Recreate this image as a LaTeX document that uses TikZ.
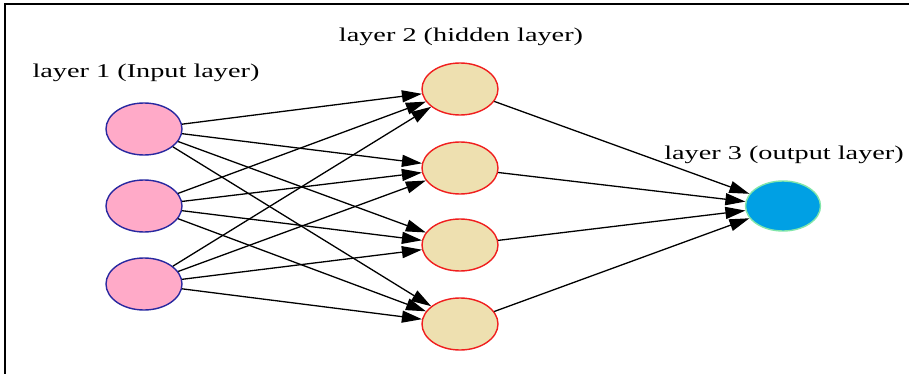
\documentclass[tikz,border=0pt]{standalone}
\usepackage{fontspec}
\setmainfont{Liberation Serif}[FakeStretch=1.45]
\usepackage{tikz}
\usetikzlibrary{arrows.meta,shapes,positioning}
\definecolor{nnpink}{RGB}{255,170,200}
\definecolor{nnblue}{RGB}{40,40,160}
\definecolor{nnwheat}{RGB}{238,224,176}
\definecolor{nnred}{RGB}{240,30,30}
\definecolor{nncyan}{RGB}{0,160,228}
\definecolor{nngreen}{RGB}{130,230,170}
\tikzstyle{inputnode} = [ellipse, minimum width=76pt, minimum height=52pt, inner sep=0pt, draw=nnblue, fill=nnpink, line width=1.4pt]
\tikzstyle{hiddennode} = [ellipse, minimum width=76pt, minimum height=52pt, inner sep=0pt, draw=nnred, fill=nnwheat, line width=1.4pt]
\tikzstyle{outputnode} = [ellipse, minimum width=75pt, minimum height=50pt, inner sep=0pt, draw=nngreen, fill=nncyan, line width=1.4pt]
\tikzstyle{arrow} = [line width=1.3pt, -{Triangle[length=20pt,width=12pt]}, color=black]
\tikzstyle{layerlabel} = [font=\fontsize{19.5}{22}\selectfont, inner sep=0pt]

\begin{document}
\begin{tikzpicture}[x=1pt, y=-1pt]
\useasboundingbox (0,0) rectangle (909,374);
% Frame
\draw[line width=2pt] (5,374) -- (5,4) -- (909,4);

% Input layer
\node (in1) [inputnode] at (144,129) {};
\node (in2) [inputnode] at (144,206) {};
\node (in3) [inputnode] at (144,284) {};

% Hidden layer
\node (hid1) [hiddennode] at (460,89) {};
\node (hid2) [hiddennode] at (460,168) {};
\node (hid3) [hiddennode] at (460,245) {};
\node (hid4) [hiddennode] at (460,324) {};

% Output layer
\node (out) [outputnode] at (783,206) {};

% Layer labels
\node (lab1) [layerlabel] at (146,73) {layer 1 (Input layer)};
\node (lab2) [layerlabel] at (461,37) {layer 2 (hidden layer)};
\node (lab3) [layerlabel] at (784,155) {layer 3 (output layer)};

% Input -> hidden
\draw[arrow] (in1) -- (hid1);
\draw[arrow] (in1) -- (hid2);
\draw[arrow] (in1) -- (hid3);
\draw[arrow] (in1) -- (hid4);
\draw[arrow] (in2) -- (hid1);
\draw[arrow] (in2) -- (hid2);
\draw[arrow] (in2) -- (hid3);
\draw[arrow] (in2) -- (hid4);
\draw[arrow] (in3) -- (hid1);
\draw[arrow] (in3) -- (hid2);
\draw[arrow] (in3) -- (hid3);
\draw[arrow] (in3) -- (hid4);

% Hidden -> output
\draw[arrow] (hid1) -- (out);
\draw[arrow] (hid2) -- (out);
\draw[arrow] (hid3) -- (out);
\draw[arrow] (hid4) -- (out);
\end{tikzpicture}
\end{document}
